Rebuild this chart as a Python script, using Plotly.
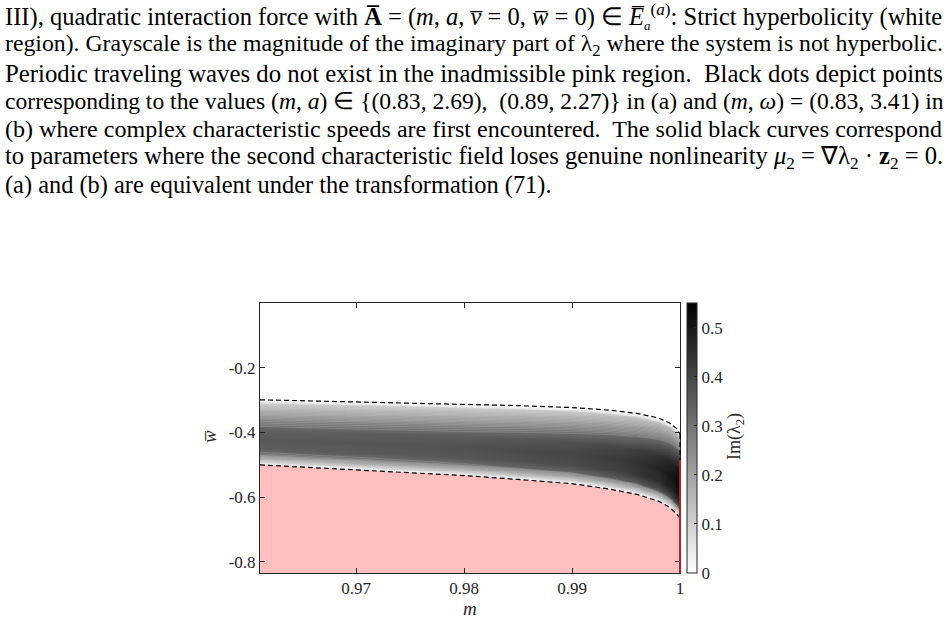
import numpy as np
import plotly.graph_objects as go

# ---------------- data ----------------
# boundary curves of the non-hyperbolic region (dashed)
m_curve = [0.9611, 0.97, 0.98, 0.985, 0.99, 0.9935, 0.996, 0.998, 0.999, 0.9997, 1.0]
w_upper = [-0.299, -0.305, -0.313, -0.317, -0.323, -0.331, -0.341, -0.355, -0.370, -0.388, -0.405]
w_lower = [-0.500, -0.515, -0.533, -0.545, -0.558, -0.575, -0.591, -0.612, -0.630, -0.652, -0.665]

# peak of Im(lambda_2) across the band, versus m
m_peak = [0.9611, 0.97, 0.98, 0.99, 0.995, 0.998, 0.9995, 1.0]
im_peak = [0.36, 0.365, 0.375, 0.40, 0.43, 0.47, 0.51, 0.54]

# normalised profile across the band (0 = upper curve, 1 = lower curve)
prof_t = [0.0, 0.05, 0.15, 0.30, 0.45, 0.60, 0.75, 0.85, 0.92, 0.97, 1.0]
prof_v = [0.0, 0.33, 0.50, 0.75, 0.94, 1.00, 0.97, 0.83, 0.55, 0.28, 0.0]

# red segment on m = 1
red_m = 1.0
red_w = [-0.484, -0.834]

x_range = [0.9611, 1.0]
y_range = [-0.834, 0.0]

x_ticks = [0.97, 0.98, 0.99, 1.0]
x_ticktext = ["0.97", "0.98", "0.99", "1"]
y_ticks = [-0.8, -0.6, -0.4, -0.2]
y_ticktext = ["-0.8", "-0.6", "-0.4", "-0.2"]
cb_ticks = [0, 0.1, 0.2, 0.3, 0.4, 0.5]
cb_ticktext = ["0", "0.1", "0.2", "0.3", "0.4", "0.5"]

caption = [
    "III), quadratic interaction force with <b>A\u0305</b> = (<i>m</i>, <i>a</i>, <i>v\u0305</i> = 0, <i>w\u0305</i> = 0) \u2208 <i>E\u0305</i><sub><span style='font-size:13px'><i>a</i></span></sub><sup>(<i>a</i>)</sup>: Strict hyperbolicity (white",
    "region). Grayscale is the magnitude of the imaginary part of \u03bb<sub>2</sub> where the system is not hyperbolic.",
    "Periodic traveling waves do not exist in the inadmissible pink region.  Black dots depict points",
    "corresponding to the values (<i>m</i>, <i>a</i>) \u2208 {(0.83, 2.69),  (0.89, 2.27)} in (a) and (<i>m</i>, <i>\u03c9</i>) = (0.83, 3.41) in",
    "(b) where complex characteristic speeds are first encountered.  The solid black curves correspond",
    "to parameters where the second characteristic field loses genuine nonlinearity <i>\u03bc</i><sub>2</sub> = \u2207\u03bb<sub>2</sub> \u00b7 <b>z</b><sub>2</sub> = 0.",
    "(a) and (b) are equivalent under the transformation (71).",
]
caption_sizes = [24.5, 23.75, 24.8, 23.6, 24.05, 24.6, 24.4]
caption_y = [16.5, 45, 73, 101, 129, 157, 185]

# ---------------- build field ----------------
xg = np.linspace(x_range[0], x_range[1], 300)
yg = np.linspace(y_range[0], y_range[1], 320)
up = np.interp(xg, m_curve, w_upper)
lo = np.interp(xg, m_curve, w_lower)
pk = np.interp(xg, m_peak, im_peak)
X, Y = np.meshgrid(xg, yg)
T = (up[None, :] - Y) / (up[None, :] - lo[None, :])
Z0 = pk[None, :] * np.interp(np.clip(T, 0, 1), prof_t, prof_v)
inside = (T >= 0) & (T <= 1)
Z = np.where(inside, Z0, np.nan)
Zc = np.where(inside, Z0, 0.0)

FONT = "Liberation Serif"
AX = "#262626"

fig = go.Figure()

# pink inadmissible region
fig.add_trace(go.Scatter(
    x=m_curve + [x_range[1], x_range[0]],
    y=w_lower + [y_range[0], y_range[0]],
    fill="toself", fillcolor="#FFBFBF", mode="none",
    hoverinfo="skip", showlegend=False))

fig.add_trace(go.Heatmap(
    x=xg, y=yg, z=Z, zmin=0, zmax=0.55,
    colorscale=[[0, "white"], [1, "black"]],
    zsmooth="best",
    colorbar=dict(
        x=(687 - 260) / 420, xanchor="left", xref="paper", xpad=0,
        y=0, yanchor="bottom", len=1, lenmode="fraction", ypad=0,
        thickness=10, outlinecolor=AX, outlinewidth=1,
        tickvals=cb_ticks, ticktext=cb_ticktext,
        ticks="inside", ticklen=3, tickcolor=AX,
        tickfont=dict(family=FONT, size=17, color=AX),
    ),
    hoverinfo="skip"))

# banding stripes in the gradient zones
fig.add_trace(go.Contour(
    x=xg, y=yg, z=Zc, showscale=False,
    contours=dict(coloring="none", start=0.02, end=0.33, size=0.012),
    line=dict(color="rgba(255,255,255,0.22)", width=0.7),
    hoverinfo="skip"))

# dashed boundary curves
dash_line = dict(color="black", width=1.2, dash="5px,3px")
fig.add_trace(go.Scatter(x=m_curve, y=w_upper, mode="lines", line=dash_line,
                         hoverinfo="skip", showlegend=False))
fig.add_trace(go.Scatter(x=m_curve, y=w_lower, mode="lines", line=dash_line,
                         hoverinfo="skip", showlegend=False))

shapes = [
    dict(type="line", xref="paper", yref="y", x0=red_m, x1=red_m,
         y0=w_upper[-1], y1=w_lower[-1], layer="above",
         line=dict(color="black", width=1.2, dash="5px,3px")),
    dict(type="line", xref="paper", yref="y", x0=red_m, x1=red_m,
         y0=red_w[0], y1=red_w[1], layer="above",
         line=dict(color="rgb(175,35,35)", width=2)),
]

ann = []
for i, line in enumerate(caption):
    yc = caption_y[i]
    ann.append(dict(xref="paper", yref="paper", x=(3 - 260) / 420, y=(573 - yc) / 270,
                    xanchor="left", yanchor="middle", text=line, showarrow=False,
                    font=dict(family=FONT, size=caption_sizes[i], color="black")))
# axis titles
ann.append(dict(xref="paper", yref="paper", x=(470 - 260) / 420, y=(573 - 608) / 270,
                xanchor="center", yanchor="middle", text="<i>m</i>", showarrow=False,
                font=dict(family=FONT, size=19, color=AX)))
ann.append(dict(xref="paper", yref="paper", x=(209 - 260) / 420, y=(573 - 437) / 270,
                xanchor="center", yanchor="middle", text="<i>w\u0305</i>", showarrow=False,
                textangle=-90, font=dict(family=FONT, size=19, color=AX)))
ann.append(dict(xref="paper", yref="paper", x=(735 - 260) / 420, y=(573 - 437) / 270,
                xanchor="center", yanchor="middle", text="Im(\u03bb<sub>2</sub>)", showarrow=False,
                textangle=-90, font=dict(family=FONT, size=18, color=AX)))

fig.update_layout(
    width=947, height=619,
    margin=dict(l=260, r=267, t=303, b=46),
    paper_bgcolor="white", plot_bgcolor="white",
    showlegend=False,
    annotations=ann,
    shapes=shapes,
    xaxis=dict(range=x_range, tickvals=x_ticks, ticktext=x_ticktext,
               ticks="inside", ticklen=5, tickcolor=AX, showline=True, linecolor=AX,
               linewidth=1, mirror="ticks", showgrid=False, zeroline=False,
               tickfont=dict(family=FONT, size=17, color=AX)),
    yaxis=dict(range=y_range, tickvals=y_ticks, ticktext=y_ticktext,
               ticks="inside", ticklen=5, tickcolor=AX, showline=True, linecolor=AX,
               linewidth=1, mirror="ticks", showgrid=False, zeroline=False,
               tickfont=dict(family=FONT, size=17, color=AX)),
)

fig.write_html("out.html")
